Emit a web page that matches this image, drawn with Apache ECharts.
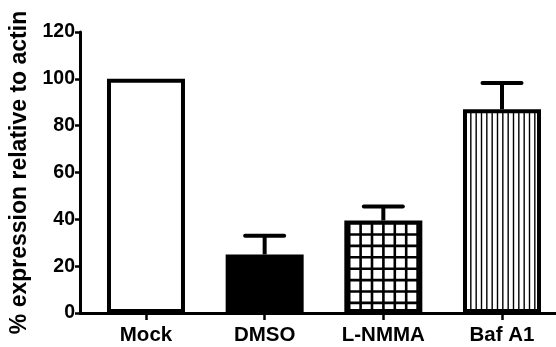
<!DOCTYPE html>
<html>
<head>
<meta charset="utf-8">
<script src="https://cdn.jsdelivr.net/npm/echarts@6/dist/echarts.min.js"></script>
<style>
  html, body { margin: 0; padding: 0; background: #fff; }
  #chart { width: 556px; height: 347px; }
</style>
</head>
<body>
<div id="chart"></div>
<script>
// ---- Data ----
var categories = ['Mock', 'DMSO', 'L-NMMA', 'Baf A1'];
var means = [100, 25, 39.5, 87];
var errors = [0, 8, 6, 11.2];
var yTicks = [0, 20, 40, 60, 80, 100, 120];
var yTitle = '% expression relative to actin';

// ---- Patterns ----
function gridPattern() {
  var c = document.createElement('canvas');
  c.width = 57; c.height = 57;
  var g = c.getContext('2d');
  g.fillStyle = '#fff'; g.fillRect(0, 0, 57, 57);
  g.strokeStyle = '#000'; g.lineWidth = 2.6;
  var vx = [7.2, 18.6, 30, 41.4, 52.8];
  var hy = [6.5, 17.9, 29.3, 40.7, 52.1];
  g.beginPath();
  vx.forEach(function (x) { g.moveTo(x, 0); g.lineTo(x, 57); });
  hy.forEach(function (y) { g.moveTo(0, y); g.lineTo(57, y); });
  g.stroke();
  return c;
}
function stripePattern() {
  var c = document.createElement('canvas');
  c.width = 16; c.height = 16;
  var g = c.getContext('2d');
  g.fillStyle = '#fff'; g.fillRect(0, 0, 16, 16);
  g.strokeStyle = '#000'; g.lineWidth = 1.4;
  g.beginPath();
  [1.5, 6.83, 12.17].forEach(function (x) { g.moveTo(x, 0); g.lineTo(x, 16); });
  g.stroke();
  return c;
}
var fills = [
  '#ffffff',
  '#000000',
  { image: gridPattern(), repeat: 'repeat' },
  { image: stripePattern(), repeat: 'repeat' }
];

var FONT = 'Liberation Sans, Arial, Helvetica, sans-serif';
var idx = categories.map(function (_, i) { return i; });

var barData = means.map(function (v, i) {
  return { value: [i, v], itemStyle: { color: fills[i] } };
});
var errData = [];
means.forEach(function (v, i) { if (errors[i] > 0) errData.push([i, v, errors[i]]); });

var chart = echarts.init(document.getElementById('chart'), null, { renderer: 'canvas' });
chart.setOption({
  animation: false,
  backgroundColor: '#fff',
  grid: { left: 80, right: 0, top: 32, bottom: 34, containLabel: false },
  xAxis: {
    type: 'value',
    min: -0.556,
    max: 3.455,
    splitLine: { show: false },
    axisLine: { show: true, onZero: false, lineStyle: { color: '#000', width: 3 } },
    axisTick: { show: true, customValues: idx, length: 7, lineStyle: { color: '#000', width: 2.5 } },
    axisLabel: {
      show: true,
      customValues: idx,
      margin: 12,
      color: '#000',
      fontFamily: FONT,
      fontWeight: 'bold',
      fontSize: 20.5,
      formatter: function (v) { return categories[Math.round(v)]; }
    }
  },
  yAxis: {
    type: 'value',
    min: yTicks[0],
    max: yTicks[yTicks.length - 1],
    interval: yTicks[1] - yTicks[0],
    name: yTitle,
    nameLocation: 'middle',
    nameGap: 40,
    nameTextStyle: { color: '#000', fontFamily: FONT, fontWeight: 'bold', fontSize: 23 },
    splitLine: { show: false },
    axisLine: { show: true, onZero: false, lineStyle: { color: '#000', width: 3 } },
    axisTick: { show: true, length: 5, lineStyle: { color: '#000', width: 2.5 } },
    axisLabel: {
      margin: 5,
      color: '#000',
      fontFamily: FONT,
      fontWeight: 'bold',
      fontSize: 19.5
    }
  },
  series: [
    {
      type: 'bar',
      barWidth: 78,
      data: barData,
      itemStyle: { borderColor: '#000', borderWidth: 4 },
      z: 2
    },
    {
      type: 'custom',
      data: errData,
      z: 3,
      renderItem: function (params, api) {
        var x = api.value(0), y = api.value(1), e = api.value(2);
        var p0 = api.coord([x, y]);
        var p1 = api.coord([x, y + e]);
        var hw = 19.5;
        return {
          type: 'group',
          children: [
            { type: 'line', shape: { x1: p0[0], y1: p0[1], x2: p1[0], y2: p1[1] },
              style: { stroke: '#000', lineWidth: 4 } },
            { type: 'line', shape: { x1: p1[0] - hw, y1: p1[1], x2: p1[0] + hw, y2: p1[1] },
              style: { stroke: '#000', lineWidth: 4, lineCap: 'round' } }
          ]
        };
      }
    }
  ]
});
</script>
</body>
</html>
